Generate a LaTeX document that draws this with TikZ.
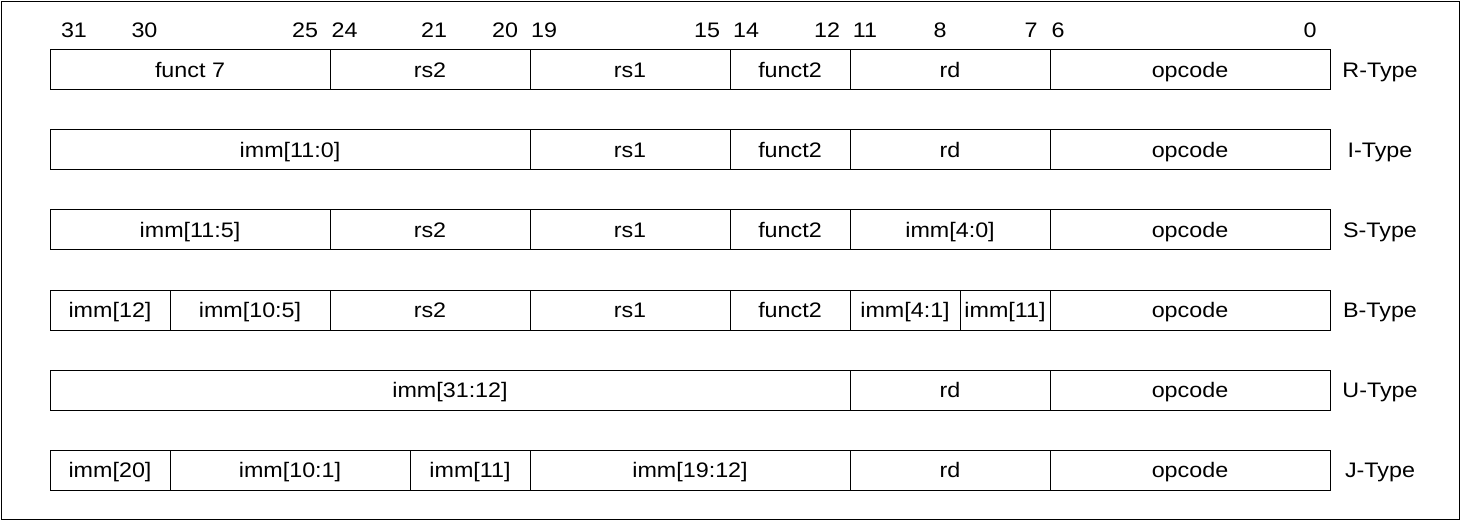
\documentclass[tikz,border=0pt]{standalone}
\usepackage{fontspec}
\setmainfont{Liberation Sans}[FakeStretch=1.11]
\begin{document}
\begin{tikzpicture}[x=1pt,y=-1pt,
  txt/.style={font=\fontsize{21}{24}\selectfont,text height=14.6pt,text depth=0pt},
  fld/.style={txt,draw=black,line width=1pt,rectangle,inner sep=0pt,minimum height=40pt},
  bitnum/.style={txt,inner sep=0pt},
  typelbl/.style={txt,inner sep=0pt}]
\newcommand\fld[5]{\node[fld,minimum width={(#3-#2)*1pt}] (#1) at ({(#2+#3)/2},#4) {#5};}
\useasboundingbox (0,0) rectangle (1461,521);
\node[draw=black,line width=1pt,inner sep=0pt,minimum width=1458pt,minimum height=518pt] (frame) at (730.5,260.5) {};
% bit numbers
\foreach \n/\x in {31/74,30/144.5,25/305,24/344.5,21/434,20/505,19/544,15/707,14/746,12/827,11/865,8/940,7/1031,6/1058,0/1310}
  \node[bitnum] (b\n) at (\x,30.5) {\n};
% R-Type
\fld{r1}{50}{330}{70}{funct 7}
\fld{r2}{330}{530}{70}{rs2}
\fld{r3}{530}{730}{70}{rs1}
\fld{r4}{730}{850}{70}{funct2}
\fld{r5}{850}{1050}{70}{rd}
\fld{r6}{1050}{1330}{70}{opcode}
\node[typelbl] (rt) at (1380,70) {R-Type};
% I-Type
\fld{i1}{50}{530}{150}{imm[11:0]}
\fld{i3}{530}{730}{150}{rs1}
\fld{i4}{730}{850}{150}{funct2}
\fld{i5}{850}{1050}{150}{rd}
\fld{i6}{1050}{1330}{150}{opcode}
\node[typelbl] (it) at (1380,150) {I-Type};
% S-Type
\fld{s1}{50}{330}{230}{imm[11:5]}
\fld{s2}{330}{530}{230}{rs2}
\fld{s3}{530}{730}{230}{rs1}
\fld{s4}{730}{850}{230}{funct2}
\fld{s5}{850}{1050}{230}{imm[4:0]}
\fld{s6}{1050}{1330}{230}{opcode}
\node[typelbl] (st) at (1380,230) {S-Type};
% B-Type
\fld{b1}{50}{170}{310}{imm[12]}
\fld{b2}{170}{330}{310}{imm[10:5]}
\fld{b3}{330}{530}{310}{rs2}
\fld{b4}{530}{730}{310}{rs1}
\fld{b5}{730}{850}{310}{funct2}
\fld{b6}{850}{960}{310}{imm[4:1]}
\fld{b7}{960}{1050}{310}{imm[11]}
\fld{b8}{1050}{1330}{310}{opcode}
\node[typelbl] (bt) at (1380,310) {B-Type};
% U-Type
\fld{u1}{50}{850}{390}{imm[31:12]}
\fld{u2}{850}{1050}{390}{rd}
\fld{u3}{1050}{1330}{390}{opcode}
\node[typelbl] (ut) at (1380,390) {U-Type};
% J-Type
\fld{j1}{50}{170}{470}{imm[20]}
\fld{j2}{170}{410}{470}{imm[10:1]}
\fld{j3}{410}{530}{470}{imm[11]}
\fld{j4}{530}{850}{470}{imm[19:12]}
\fld{j5}{850}{1050}{470}{rd}
\fld{j6}{1050}{1330}{470}{opcode}
\node[typelbl] (jt) at (1380,470) {J-Type};
\end{tikzpicture}
\end{document}
